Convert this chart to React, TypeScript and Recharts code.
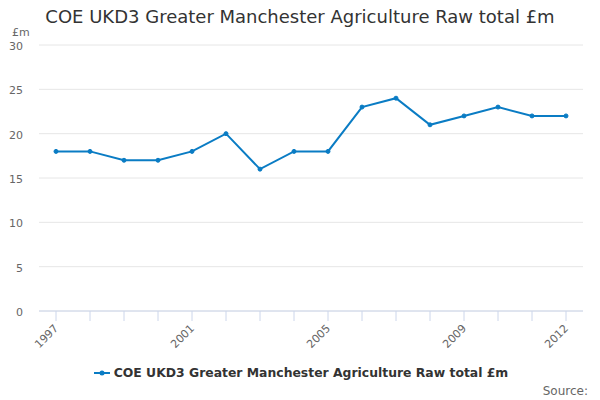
import React from 'react';
import { LineChart, Line, XAxis, YAxis, CartesianGrid, Legend } from 'recharts';

const years = ['1997', '1998', '1999', '2000', '2001', '2002', '2003', '2004', '2005', '2006', '2007', '2008', '2009', '2010', '2011', '2012'];
const totals = [18, 18, 17, 17, 18, 20, 16, 18, 18, 23, 24, 21, 22, 23, 22, 22];
const yTicks = [0, 5, 10, 15, 20, 25, 30];
const labelledYears = ['1997', '2001', '2005', '2009', '2012'];

const seriesName = 'COE UKD3 Greater Manchester Agriculture Raw total £m';
const lineColor = '#0a7cc4';
const font = '"DejaVu Sans", "Lucida Grande", sans-serif';

const data = years.map((year, i) => ({ year, value: totals[i] }));

function XTick(props: any) {
  const { x, y, payload } = props;
  const show = labelledYears.includes(payload.value);
  return (
    <g>
      <line x1={x} y1={y - 8} x2={x} y2={y + 2} stroke="#ccd6eb" strokeWidth={1} />
      {show && (
        <text
          x={x + 3}
          y={y + 10}
          textAnchor="end"
          transform={`rotate(-45 ${x + 3} ${y + 10})`}
          fontSize={11}
          fill="#666"
          fontFamily={font}
        >
          {payload.value}
        </text>
      )}
    </g>
  );
}

function YTick(props: any) {
  const { y, payload } = props;
  return (
    <text x={23} y={y + 5} textAnchor="end" fontSize={11} fill="#666" fontFamily={font}>
      {payload.value}
    </text>
  );
}

function LegendContent() {
  return (
    <div style={{ display: 'flex', justifyContent: 'center', alignItems: 'center', fontFamily: font, paddingLeft: 18 }}>
      <svg width={18} height={10} style={{ marginRight: 3 }}>
        <line x1={1} y1={5} x2={17} y2={5} stroke={lineColor} strokeWidth={2} />
        <circle cx={9} cy={5} r={2.5} fill={lineColor} />
      </svg>
      <span style={{ fontSize: 12.4, fontWeight: 'bold', color: '#333' }}>{seriesName}</span>
    </div>
  );
}

export default function App() {
  return (
    <div style={{ position: 'absolute', left: 0, top: 0, width: 600, height: 400, background: '#fff' }}>
      <div
        style={{
          position: 'absolute', left: 0, top: 6, width: 600, textAlign: 'center',
          fontFamily: font, fontSize: 18, color: '#333',
        }}
      >
        {seriesName}
      </div>
      <div style={{ position: 'absolute', left: 12, top: 26, fontFamily: font, fontSize: 11, color: '#666' }}>£m</div>
      <div style={{ position: 'absolute', right: 12, top: 384, fontFamily: font, fontSize: 12, color: '#666' }}>Source:</div>
      <LineChart width={600} height={400} data={data} margin={{ top: 45, right: 17, bottom: 0, left: 0 }}>
        <CartesianGrid vertical={false} stroke="#e6e6e6" />
        <XAxis
          dataKey="year"
          interval={0}
          padding={{ left: 17, right: 17 }}
          stroke="#ccd6eb"
          tickLine={false}
          tick={<XTick />}
          height={54}
        />
        <YAxis
          domain={[0, 30]}
          ticks={yTicks}
          width={39}
          axisLine={false}
          tickLine={false}
          tick={<YTick />}
        />
        <Legend verticalAlign="bottom" height={35} content={<LegendContent />} />
        <Line
          dataKey="value"
          name={seriesName}
          stroke={lineColor}
          strokeWidth={2}
          dot={{ r: 2, fill: lineColor, stroke: lineColor, strokeWidth: 1 }}
          activeDot={false}
          isAnimationActive={false}
        />
      </LineChart>
    </div>
  );
}
